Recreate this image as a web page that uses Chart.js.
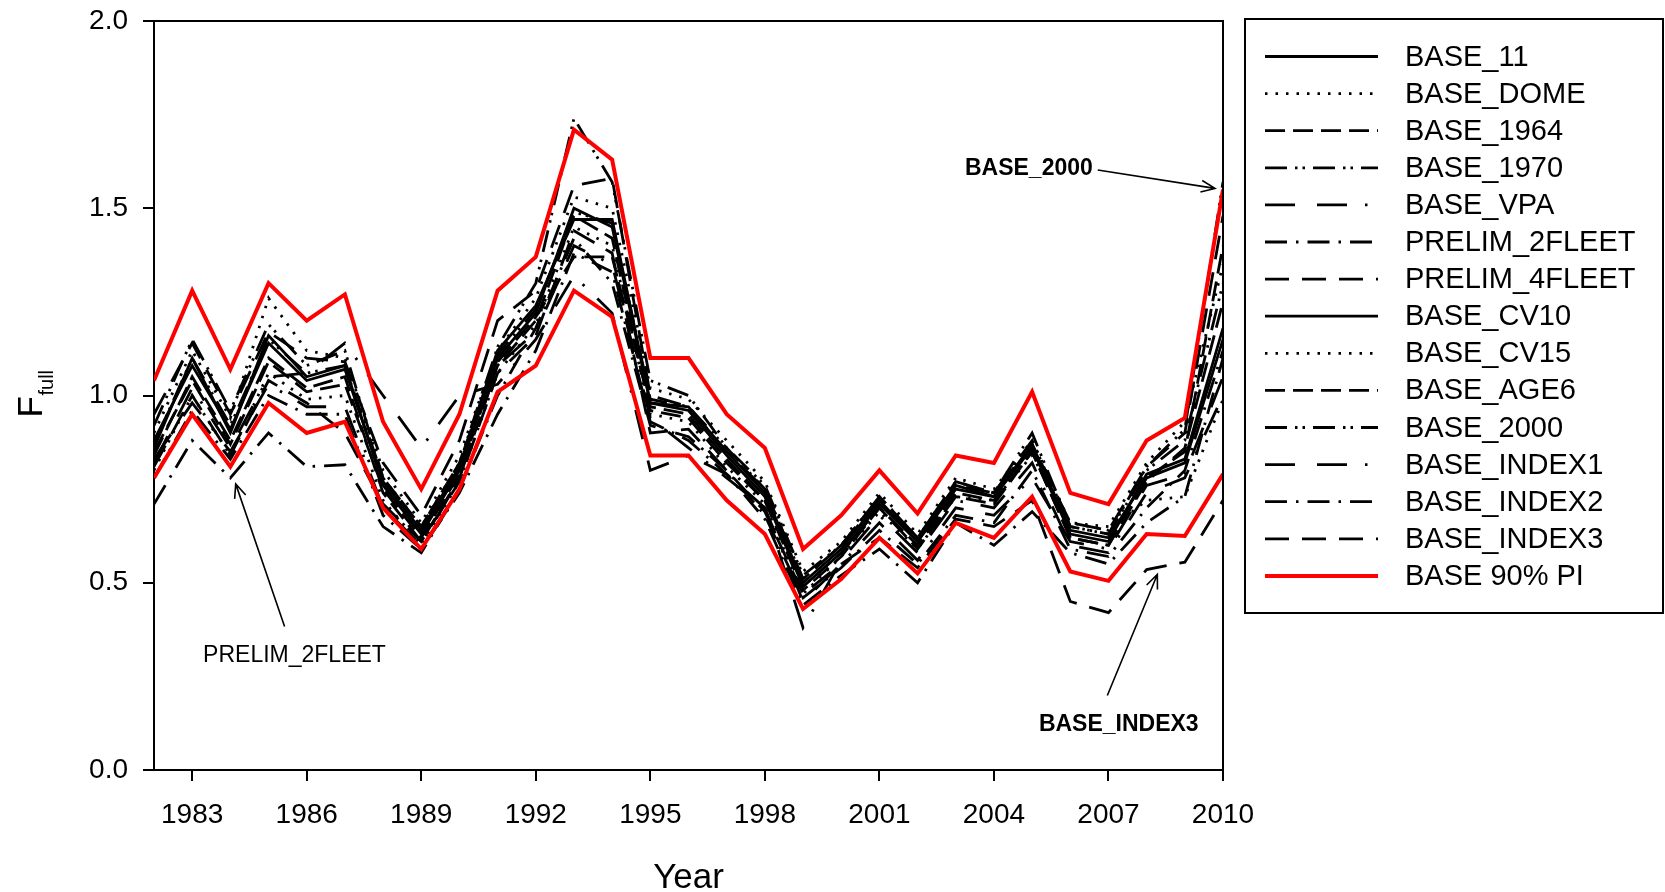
<!DOCTYPE html>
<html>
<head>
<meta charset="utf-8">
<script src="https://cdn.jsdelivr.net/npm/chart.js@4/dist/chart.umd.min.js"></script>
<style>
  html, body { margin: 0; padding: 0; background: #fff; overflow: hidden; }
</style>
</head>
<body>
<canvas id="fChart" width="1665" height="892"></canvas>
<script>
// data
const YEARS = [1982, 1983, 1984, 1985, 1986, 1987, 1988, 1989, 1990, 1991, 1992, 1993, 1994, 1995,
  1996, 1997, 1998, 1999, 2000, 2001, 2002, 2003, 2004, 2005, 2006, 2007, 2008, 2009, 2010];
const X_TICKS = [1983, 1986, 1989, 1992, 1995, 1998, 2001, 2004, 2007, 2010];
const Y_TICKS = [0, 0.5, 1.0, 1.5, 2.0];

const BASE_11       = [0.86,1.10,0.90,1.16,1.05,1.08,0.76,0.63,0.80,1.10,1.22,1.50,1.45,0.98,0.96,0.84,0.73,0.49,0.58,0.71,0.61,0.75,0.73,0.86,0.63,0.61,0.79,0.83,1.18];
const BASE_DOME     = [0.90,1.12,0.94,1.26,1.12,1.10,0.80,0.66,0.84,1.12,1.26,1.53,1.50,1.02,0.99,0.88,0.77,0.53,0.61,0.74,0.63,0.78,0.75,0.88,0.66,0.65,0.82,0.93,1.35];
const BASE_1964     = [0.84,1.05,0.88,1.10,1.02,1.05,0.74,0.61,0.78,1.08,1.20,1.48,1.42,0.96,0.94,0.82,0.72,0.48,0.57,0.70,0.60,0.74,0.72,0.85,0.62,0.60,0.78,0.85,1.40];
const BASE_1970     = [0.92,1.15,0.96,1.19,1.08,1.12,0.78,0.65,0.82,1.13,1.30,1.74,1.57,1.04,1.00,0.86,0.76,0.52,0.60,0.73,0.62,0.77,0.74,0.90,0.65,0.63,0.80,0.88,1.30];
const BASE_VPA      = [0.82,1.02,0.86,1.05,1.06,1.14,1.00,0.86,1.00,1.03,1.15,1.32,1.22,0.80,0.84,0.79,0.70,0.38,0.56,0.68,0.58,0.72,0.70,0.82,0.60,0.58,0.74,0.78,1.00];
const PRELIM_2FLEET = [0.71,0.88,0.78,0.90,0.81,0.815,0.65,0.58,0.75,1.00,1.18,1.42,1.30,0.92,0.89,0.80,0.68,0.46,0.54,0.64,0.55,0.68,0.66,0.80,0.59,0.57,0.70,0.80,1.12];
const PRELIM_4FLEET = [0.95,1.14,0.95,1.17,1.10,1.09,0.82,0.68,0.88,1.20,1.28,1.56,1.58,1.00,0.97,0.85,0.75,0.51,0.60,0.72,0.62,0.76,0.74,0.87,0.66,0.64,0.81,0.90,1.48];
const BASE_CV10     = [0.88,1.08,0.91,1.14,1.04,1.07,0.77,0.64,0.81,1.12,1.24,1.47,1.47,0.98,0.97,0.85,0.74,0.50,0.59,0.72,0.61,0.76,0.73,0.87,0.64,0.62,0.78,0.82,1.15];
const BASE_CV15     = [0.80,1.00,0.84,1.06,0.99,1.00,0.72,0.60,0.77,1.06,1.19,1.45,1.40,0.95,0.93,0.81,0.71,0.47,0.57,0.69,0.59,0.73,0.72,0.84,0.66,0.64,0.72,0.73,0.99];
const BASE_AGE6     = [0.85,1.04,0.87,1.09,1.01,1.03,0.75,0.62,0.79,1.09,1.21,1.37,1.37,0.97,0.95,0.83,0.72,0.49,0.58,0.70,0.59,0.73,0.71,0.85,0.62,0.60,0.77,0.86,1.25];
const BASE_2000     = [0.87,1.10,0.92,1.15,1.06,1.08,0.78,0.65,0.82,1.11,1.23,1.49,1.46,0.99,0.97,0.86,0.75,0.51,0.60,0.73,0.62,0.77,0.74,0.88,0.65,0.63,0.81,0.91,1.57];
const BASE_INDEX1   = [0.83,0.98,0.85,1.03,0.97,0.97,0.70,0.60,0.78,1.08,1.17,1.40,1.35,0.94,0.86,0.78,0.70,0.45,0.55,0.66,0.56,0.70,0.68,0.78,0.61,0.59,0.76,0.79,1.05];
const BASE_INDEX2   = [0.78,0.96,0.83,1.00,0.95,0.95,0.68,0.59,0.74,0.95,1.12,1.38,1.33,0.93,0.88,0.79,0.67,0.44,0.52,0.59,0.50,0.66,0.60,0.69,0.58,0.55,0.66,0.73,1.10];
const BASE_INDEX3   = [0.81,1.00,0.84,1.04,0.98,0.90,0.71,0.61,0.77,1.06,1.16,1.44,1.38,0.90,0.91,0.80,0.69,0.47,0.55,0.62,0.54,0.67,0.65,0.72,0.45,0.42,0.535,0.555,0.72];
const PI_UPPER      = [1.04,1.28,1.07,1.30,1.20,1.27,0.93,0.75,0.95,1.28,1.37,1.71,1.63,1.10,1.10,0.95,0.86,0.59,0.68,0.80,0.685,0.84,0.82,1.01,0.74,0.71,0.88,0.94,1.55];
const PI_LOWER      = [0.78,0.95,0.81,0.98,0.90,0.93,0.70,0.59,0.75,1.01,1.08,1.28,1.21,0.84,0.84,0.72,0.63,0.43,0.51,0.62,0.525,0.66,0.62,0.73,0.53,0.505,0.63,0.625,0.79];

// line styles (SigmaPlot-like)
const DASH = {
  solid: [],
  dot: [2.5, 8],
  dash: [20, 8],
  dashDotDot: [22, 8, 2.5, 5, 2.5, 8],
  longDashDot: [30, 22, 30, 18, 2.5, 18],
  dashDot: [22, 9, 2.5, 9],
  longDash: [24, 13]
};

const SERIES = [
  ['BASE_11', BASE_11, 'solid'],
  ['BASE_DOME', BASE_DOME, 'dot'],
  ['BASE_1964', BASE_1964, 'dash'],
  ['BASE_1970', BASE_1970, 'dashDotDot'],
  ['BASE_VPA', BASE_VPA, 'longDashDot'],
  ['PRELIM_2FLEET', PRELIM_2FLEET, 'dashDot'],
  ['PRELIM_4FLEET', PRELIM_4FLEET, 'longDash'],
  ['BASE_CV10', BASE_CV10, 'solid'],
  ['BASE_CV15', BASE_CV15, 'dot'],
  ['BASE_AGE6', BASE_AGE6, 'dash'],
  ['BASE_2000', BASE_2000, 'dashDotDot'],
  ['BASE_INDEX1', BASE_INDEX1, 'longDashDot'],
  ['BASE_INDEX2', BASE_INDEX2, 'dashDot'],
  ['BASE_INDEX3', BASE_INDEX3, 'longDash']
];

const FONT = "'Liberation Sans', Arial, sans-serif";
const BLACK_W = 2.8;
const RED_W = 4;

function toPoints(vals) {
  return YEARS.map((yr, i) => ({ x: yr, y: vals[i] }));
}

const datasets = SERIES.map(([name, vals, dash]) => ({
  label: name,
  data: toPoints(vals),
  borderColor: '#000',
  borderWidth: BLACK_W,
  borderDash: DASH[dash],
  pointRadius: 0,
  fill: false,
  tension: 0
}));
datasets.push({ label: 'BASE 90% PI', data: toPoints(PI_UPPER), borderColor: '#ff0000', borderWidth: RED_W, pointRadius: 0, tension: 0, order: -1 });
datasets.push({ label: 'PI_LOWER', data: toPoints(PI_LOWER), borderColor: '#ff0000', borderWidth: RED_W, pointRadius: 0, tension: 0, order: -1 });

function arrow(ctx, x1, y1, x2, y2) {
  const a = Math.atan2(y2 - y1, x2 - x1);
  const L = 15, w = 0.4;
  ctx.beginPath();
  ctx.moveTo(x1, y1);
  ctx.lineTo(x2, y2);
  ctx.moveTo(x2 - L * Math.cos(a - w), y2 - L * Math.sin(a - w));
  ctx.lineTo(x2, y2);
  ctx.lineTo(x2 - L * Math.cos(a + w), y2 - L * Math.sin(a + w));
  ctx.stroke();
}

// frame, legend, axis titles and the text notes
const decorations = {
  id: 'decorations',
  afterDraw(chart) {
    const ctx = chart.ctx;
    const a = chart.chartArea;
    const xs = chart.scales.x, ys = chart.scales.y;
    ctx.save();
    ctx.strokeStyle = '#000';
    ctx.fillStyle = '#000';
    ctx.setLineDash([]);

    // top and right border of the plot box
    ctx.lineWidth = 2;
    ctx.beginPath();
    ctx.moveTo(a.left, a.top);
    ctx.lineTo(a.right, a.top);
    ctx.lineTo(a.right, a.bottom);
    ctx.stroke();

    // legend box
    ctx.strokeRect(1245, 19, 418, 594);
    ctx.font = '29px ' + FONT;
    ctx.textAlign = 'left';
    ctx.textBaseline = 'middle';
    const rows = SERIES.map(s => [s[0], DASH[s[2]], '#000', BLACK_W]);
    rows.push(['BASE 90% PI', [], '#ff0000', RED_W]);
    rows.forEach((r, i) => {
      const y = 56.5 + i * 37.1;
      ctx.strokeStyle = r[2];
      ctx.lineWidth = r[3];
      ctx.setLineDash(r[1]);
      ctx.beginPath();
      ctx.moveTo(1265, y);
      ctx.lineTo(1378, y);
      ctx.stroke();
      ctx.fillText(r[0], 1405, y + 1);
    });
    ctx.setLineDash([]);
    ctx.strokeStyle = '#000';

    // axis titles
    ctx.font = '35px ' + FONT;
    ctx.textAlign = 'center';
    ctx.textBaseline = 'alphabetic';
    ctx.fillText('Year', (a.left + a.right) / 2, 888);
    ctx.save();
    ctx.translate(42, (a.top + a.bottom) / 2 + 22);
    ctx.rotate(-Math.PI / 2);
    ctx.textAlign = 'left';
    ctx.fillText('F', 0, 0);
    ctx.font = '20px ' + FONT;
    ctx.fillText('full', 22, 11);
    ctx.restore();

    // notes with arrows
    ctx.lineWidth = 1.6;
    ctx.font = 'bold 23px ' + FONT;
    ctx.textAlign = 'right';
    ctx.textBaseline = 'middle';
    ctx.fillText('BASE_2000', xs.getPixelForValue(2006.59), ys.getPixelForValue(1.607));
    arrow(ctx, xs.getPixelForValue(2006.72), ys.getPixelForValue(1.602), xs.getPixelForValue(2009.79), ys.getPixelForValue(1.553));

    ctx.textAlign = 'center';
    ctx.fillText('BASE_INDEX3', xs.getPixelForValue(2007.27), ys.getPixelForValue(0.12));
    arrow(ctx, xs.getPixelForValue(2006.97), ys.getPixelForValue(0.199), xs.getPixelForValue(2008.28), ys.getPixelForValue(0.522));

    ctx.font = '23px ' + FONT;
    ctx.fillText('PRELIM_2FLEET', xs.getPixelForValue(1985.68), ys.getPixelForValue(0.304));
    arrow(ctx, xs.getPixelForValue(1985.42), ys.getPixelForValue(0.383), xs.getPixelForValue(1984.14), ys.getPixelForValue(0.764));
    ctx.restore();
  }
};

const axisGrid = { display: true, drawOnChartArea: false, drawTicks: true, tickLength: 11, color: '#000', lineWidth: 2 };
const axisBorder = { display: true, color: '#000', width: 2 };

new Chart(document.getElementById('fChart').getContext('2d'), {
  type: 'line',
  data: { datasets: datasets },
  options: {
    responsive: false,
    animation: false,
    layout: { padding: { left: 0, top: 21, right: 442, bottom: 0 } },
    plugins: { legend: { display: false }, tooltip: { enabled: false } },
    scales: {
      x: {
        type: 'linear',
        min: 1982,
        max: 2010,
        afterBuildTicks: s => { s.ticks = X_TICKS.map(v => ({ value: v })); },
        afterFit: s => { s.height = 122; s.paddingLeft = 0; s.paddingRight = 0; },
        ticks: {
          callback: v => String(v),
          font: { family: FONT, size: 28 },
          color: '#000',
          padding: 17,
          maxRotation: 0,
          autoSkip: false
        },
        grid: axisGrid,
        border: axisBorder
      },
      y: {
        type: 'linear',
        min: 0,
        max: 2,
        afterBuildTicks: s => { s.ticks = Y_TICKS.map(v => ({ value: v })); },
        afterFit: s => { s.width = 154; s.paddingTop = 0; s.paddingBottom = 0; },
        ticks: {
          callback: v => v.toFixed(1),
          font: { family: FONT, size: 28 },
          color: '#000',
          padding: 15
        },
        grid: axisGrid,
        border: axisBorder
      }
    }
  },
  plugins: [decorations]
});
</script>
</body>
</html>
